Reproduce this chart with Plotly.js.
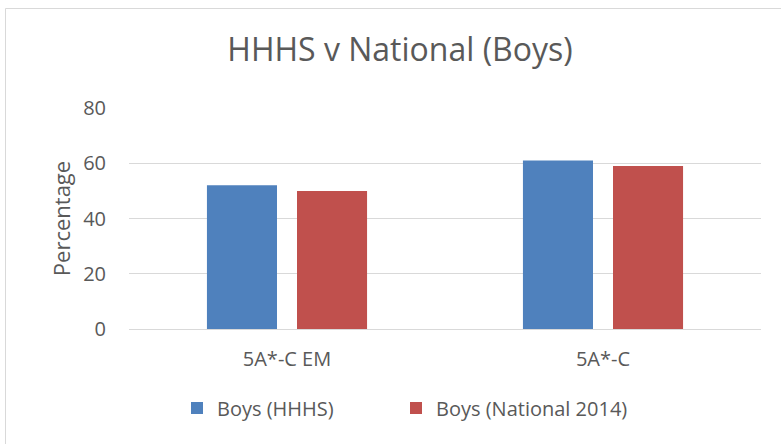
<!DOCTYPE html>
<html><head><meta charset="utf-8">
<script src="https://cdn.plot.ly/plotly-3.0.1.min.js"></script>
<style>html,body{margin:0;padding:0;background:#fff}#chart{width:781px;height:444px}</style>
</head><body><div id="chart"></div>
<script>
const categories = ["5A*-C EM", "5A*-C"];
const hhhs = [52, 61];
const national = [50, 59];
const seriesNames = ["Boys (HHHS)", "Boys (National 2014)"];
const yTicks = [0, 20, 40, 60, 80];

const font = "Open Sans, Liberation Sans, sans-serif";
const data = [
  {type:'bar', x:categories, y:hhhs, name:seriesNames[0], marker:{color:'#4f81bd'}, legend:'legend'},
  {type:'bar', x:categories, y:national, name:seriesNames[1], marker:{color:'#c0504d'}, legend:'legend2'}
];
const L=129, R=761, T=108, B=329, W=781, H=444;
const pw=R-L, ph=B-T;
const legFont = {family:font, size:20, color:'#595959'};
const layout = {
  width:W, height:H,
  margin:{l:L, r:W-R, t:T, b:H-B},
  paper_bgcolor:'#fff', plot_bgcolor:'#fff',
  barmode:'group', bargap:0.43, bargroupgap:0.222,
  title:{text:'HHHS v National (Boys)', font:{family:font, size:32, color:'#595959'}, x:(400)/W, xanchor:'center', y:(H-50)/H, yanchor:'middle'},
  xaxis:{showgrid:false, showline:false, zeroline:false, ticks:'outside', ticklen:12, tickcolor:'rgba(0,0,0,0)',
         tickfont:{family:font, size:20, color:'#595959'}, fixedrange:true},
  yaxis:{range:[0,80], tickvals:yTicks, showgrid:true, gridcolor:'#d9d9d9', gridwidth:1, zeroline:true, zerolinecolor:'#d9d9d9', zerolinewidth:1,
         showline:false, ticks:'outside', ticklen:18, tickcolor:'rgba(0,0,0,0)',
         tickfont:{family:font, size:20, color:'#595959'},
         title:{text:'Percentage', font:{family:font, size:22, color:'#595959'}, standoff:6}},
  showlegend:true,
  legend:{orientation:'h', x:(177-L)/pw, xanchor:'left', y:(B-408)/ph, yanchor:'middle', font:legFont, itemwidth:30},
  legend2:{orientation:'h', x:(396-L)/pw, xanchor:'left', y:(B-408)/ph, yanchor:'middle', font:legFont, itemwidth:30},
  shapes:[{type:'rect', xref:'paper', yref:'paper', x0:(5.5-L)/pw, x1:(795-L)/pw, y0:(B-460)/ph, y1:(B-8.5)/ph, line:{color:'#d9d9d9', width:1}, fillcolor:'rgba(0,0,0,0)', layer:'below'}]
};
Plotly.newPlot('chart', data, layout, {displayModeBar:false, staticPlot:true});
</script></body></html>
